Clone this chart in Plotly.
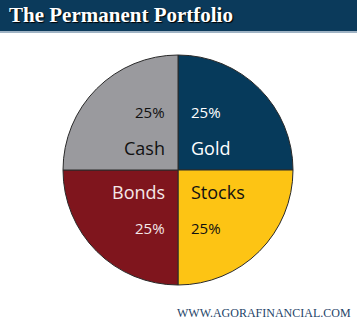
import math
import plotly.graph_objects as go

categories = ["Gold", "Stocks", "Bonds", "Cash"]
values = [25, 25, 25, 25]
colors = ["#063a5b", "#fdc414", "#7f151d", "#9a9a9e"]
text_colors = ["#ffffff", "#111111", "#f5e8e8", "#111111"]

W, H = 357, 324
cx, cy, r = 178, 170, 115

fig = go.Figure()
fig.add_trace(go.Pie(
    labels=categories, values=values, sort=False, direction="clockwise",
    rotation=0, marker=dict(colors=colors, line=dict(color="#2a2a2a", width=1)),
    textinfo="none", hoverinfo="label+percent", showlegend=False,
    domain=dict(x=[(cx - r) / W, (cx + r) / W], y=[(H - cy - r) / H, (H - cy + r) / H]),
))

# Labels placed per slice from mid-angle quadrant
total = sum(values)
start = 90.0
for cat, v, tc in zip(categories, values, text_colors):
    span = 360.0 * v / total
    mid = math.radians(start - span / 2)
    start -= span
    sx = 1 if math.cos(mid) > 0 else -1
    sy = 1 if math.sin(mid) > 0 else -1
    xpx = cx + sx * 11
    anchor = "left" if sx > 0 else "right"
    pct = f"{v / total * 100:.0f}%"
    for txt, dy, size in ((pct, 58, 15), (cat, 22, 18)):
        ypx = cy - sy * dy
        fig.add_annotation(x=xpx / W, y=1 - ypx / H, xref="paper", yref="paper",
                           text=txt, showarrow=False, xanchor=anchor, yanchor="middle",
                           font=dict(family="Open Sans", size=size, color=tc))

# Title bar
fig.add_shape(type="rect", xref="paper", yref="paper", x0=0, x1=1, y0=1 - 31 / H, y1=1,
              fillcolor="#0b3a5b", line=dict(width=0), layer="below")
fig.add_shape(type="rect", xref="paper", yref="paper", x0=0, x1=1, y0=1 - 33 / H, y1=1 - 31 / H,
              fillcolor="#9fb3c4", line=dict(width=0), layer="below")
fig.add_annotation(x=7 / W, y=1 - 15 / H, xref="paper", yref="paper", showarrow=False,
                   text="The Permanent Portfolio", xanchor="left", yanchor="middle",
                   font=dict(family="Liberation Serif", size=21, color="#ffffff",
                             weight="bold", shadow="1px 1px 1px #000000"))
fig.add_annotation(x=353 / W, y=1 - 313 / H, xref="paper", yref="paper", showarrow=False,
                   text="WWW.AGORAFINANCIAL.COM", xanchor="right", yanchor="middle",
                   font=dict(family="Liberation Serif", size=12, color="#244468"))

fig.update_layout(width=W, height=H, margin=dict(l=0, r=0, t=0, b=0),
                  paper_bgcolor="#ffffff", plot_bgcolor="#ffffff")
fig.write_html("out.html")
